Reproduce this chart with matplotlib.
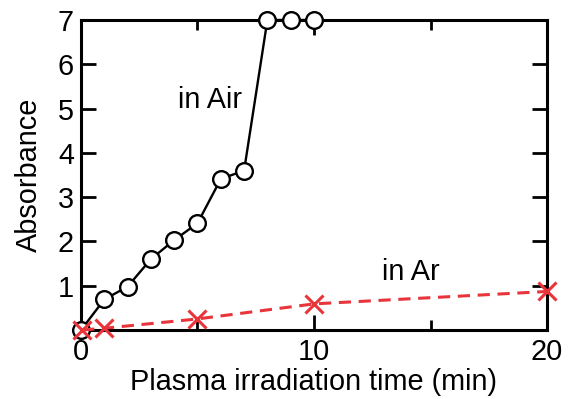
import matplotlib
matplotlib.use("Agg")
import matplotlib.pyplot as plt
from matplotlib.ticker import MultipleLocator

plt.rcParams['font.family'] = ['Liberation Sans', 'DejaVu Sans']

air_time = [0, 1, 2, 3, 4, 5, 6, 7, 8, 9, 10]
air_abs = [0.0, 0.69, 0.98, 1.60, 2.03, 2.41, 3.41, 3.60, 7.0, 7.0, 7.0]
ar_time = [0.05, 1, 5, 10, 20]
ar_abs = [0.0, 0.04, 0.25, 0.59, 0.87]

xticks = [0, 10, 20]
yticks = [1, 2, 3, 4, 5, 6, 7]

FS = 20.8

fig = plt.figure(figsize=(5.72, 3.99), dpi=100)
ax = fig.add_axes([0.1416, 0.1729, 0.8147, 0.7770])

red = '#e8353b'
ax.plot(air_time, air_abs, color='black', lw=1.7, marker='o', ms=12,
        mfc='white', mec='black', mew=1.7, clip_on=False, zorder=3)
ax.plot(ar_time, ar_abs, color=red, lw=2.2, ls=(0, (4, 2.5)), marker='x', ms=13,
        mew=2.2, mec=red, clip_on=False, zorder=4)

ax.set_xlim(0, 20)
ax.set_ylim(0, 7)
ax.set_xticks(xticks)
ax.set_yticks(yticks)
ax.xaxis.set_minor_locator(MultipleLocator(5))
ax.tick_params(axis='both', which='major', direction='in', length=11, width=2,
               labelsize=FS, top=True, right=True, pad=5)
ax.tick_params(axis='x', which='minor', direction='in', length=7, width=2,
               top=True)
ax.tick_params(axis='x', which='major', pad=6)
for s in ax.spines.values():
    s.set_linewidth(2.2)

ax.set_xlabel('Plasma irradiation time (min)', fontsize=FS, labelpad=1)
ax.set_ylabel('Absorbance', fontsize=FS, labelpad=11)

ax.text(5.55, 5.2, 'in Air', fontsize=FS, ha='center', va='center')
ax.text(14.15, 1.31, 'in Ar', fontsize=FS, ha='center', va='center')

fig.savefig('out.png', dpi=100)
